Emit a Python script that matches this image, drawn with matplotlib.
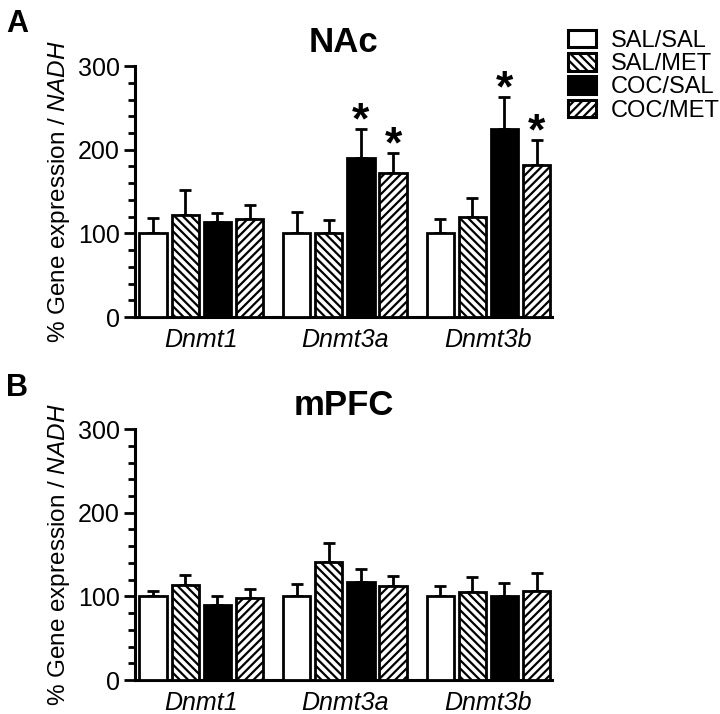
import matplotlib
matplotlib.use("Agg")
import matplotlib.pyplot as plt
from matplotlib.patches import Patch
from matplotlib.ticker import MultipleLocator
import numpy as np

plt.rcParams['font.family'] = ['Liberation Sans', 'DejaVu Sans']
plt.rcParams['mathtext.fontset'] = 'custom'
plt.rcParams['mathtext.rm'] = 'Liberation Sans'
plt.rcParams['mathtext.it'] = 'Liberation Sans:italic'
plt.rcParams['hatch.linewidth'] = 1.6

genes = ["Dnmt1", "Dnmt3a", "Dnmt3b"]
groups = ["SAL/SAL", "SAL/MET", "COC/SAL", "COC/MET"]

# NAc means and upper error (mean + SEM)
nac_mean = {
    "SAL/SAL": [100, 100, 100],
    "SAL/MET": [122, 100, 120],
    "COC/SAL": [113, 190, 225],
    "COC/MET": [117, 172, 182],
}
nac_top = {
    "SAL/SAL": [118, 125, 117],
    "SAL/MET": [152, 116, 142],
    "COC/SAL": [124, 225, 263],
    "COC/MET": [134, 196, 211],
}
nac_sig = {
    "SAL/SAL": [False, False, False],
    "SAL/MET": [False, False, False],
    "COC/SAL": [False, True, True],
    "COC/MET": [False, True, True],
}

# mPFC
mpfc_mean = {
    "SAL/SAL": [100, 100, 100],
    "SAL/MET": [113, 141, 105],
    "COC/SAL": [90, 117, 100],
    "COC/MET": [98, 112, 107],
}
mpfc_top = {
    "SAL/SAL": [107, 115, 112],
    "SAL/MET": [126, 164, 123],
    "COC/SAL": [100, 133, 116],
    "COC/MET": [109, 124, 128],
}

facecolors = {"SAL/SAL": "white", "SAL/MET": "white", "COC/SAL": "black", "COC/MET": "white"}
hatches = {"SAL/SAL": None, "SAL/MET": "\\\\\\\\", "COC/SAL": None, "COC/MET": "////"}

fig = plt.figure(figsize=(7.2, 7.14), dpi=100)
ax1 = fig.add_axes([0.1875, 0.556, 0.5795, 0.3515])
ax2 = fig.add_axes([0.1875, 0.0476, 0.5795, 0.3515])

step = 0.224
width = 0.19
x = np.arange(len(genes))


def draw(ax, means, tops, title, sig=None):
    for i, g in enumerate(groups):
        pos = x + (i - 1.5) * step
        m = np.array(means[g], dtype=float)
        t = np.array(tops[g], dtype=float)
        ax.bar(pos, m, width=width, color=facecolors[g], edgecolor="black",
               linewidth=2.0, hatch=hatches[g], zorder=3)
        err = t - m
        ax.errorbar(pos, m, yerr=[np.zeros_like(err), err], fmt="none",
                    ecolor="black", elinewidth=2.0, capsize=4.5, capthick=2.0, zorder=2)
        if sig is not None:
            for j, s in enumerate(sig[g]):
                if s:
                    ax.text(pos[j], t[j] - 16, "*", ha="center", va="bottom",
                            fontsize=32, fontweight="bold")
    ax.set_xlim(-0.462, 2.445)
    ax.set_ylim(0, 300)
    ax.yaxis.set_major_locator(MultipleLocator(100))
    ax.yaxis.set_minor_locator(MultipleLocator(20))
    ax.set_xticks(x)
    ax.set_xticklabels(genes, fontstyle="italic", fontsize=18)
    ax.tick_params(axis="x", length=0, pad=8)
    ax.tick_params(axis="y", which="major", length=8, width=2, labelsize=18, pad=3)
    ax.tick_params(axis="y", which="minor", length=5, width=2)
    for sp in ["top", "right"]:
        ax.spines[sp].set_visible(False)
    for sp in ["left", "bottom"]:
        ax.spines[sp].set_linewidth(2.2)
    ax.set_ylabel("% Gene expression / $\\mathit{NADH}$", fontsize=17.5, labelpad=4)
    ax.set_title(title, fontsize=25, fontweight="bold", pad=10)


draw(ax1, nac_mean, nac_top, "NAc", nac_sig)
draw(ax2, mpfc_mean, mpfc_top, "mPFC")

fig.text(0.008, 0.988, "A", fontsize=22, fontweight="bold", va="top", ha="left")
fig.text(0.008, 0.478, "B", fontsize=22, fontweight="bold", va="top", ha="left")

handles = [Patch(facecolor=facecolors[g], edgecolor="black", linewidth=2.2,
                 hatch=hatches[g], label=g) for g in groups]
fig.legend(handles=handles, loc="upper left", bbox_to_anchor=(0.789, 0.958),
           frameon=False, fontsize=17, handlelength=1.19, handleheight=0.76,
           handletextpad=0.62, labelspacing=0.05, borderaxespad=0, borderpad=0)

fig.savefig("out.png", dpi=100, facecolor="white")
